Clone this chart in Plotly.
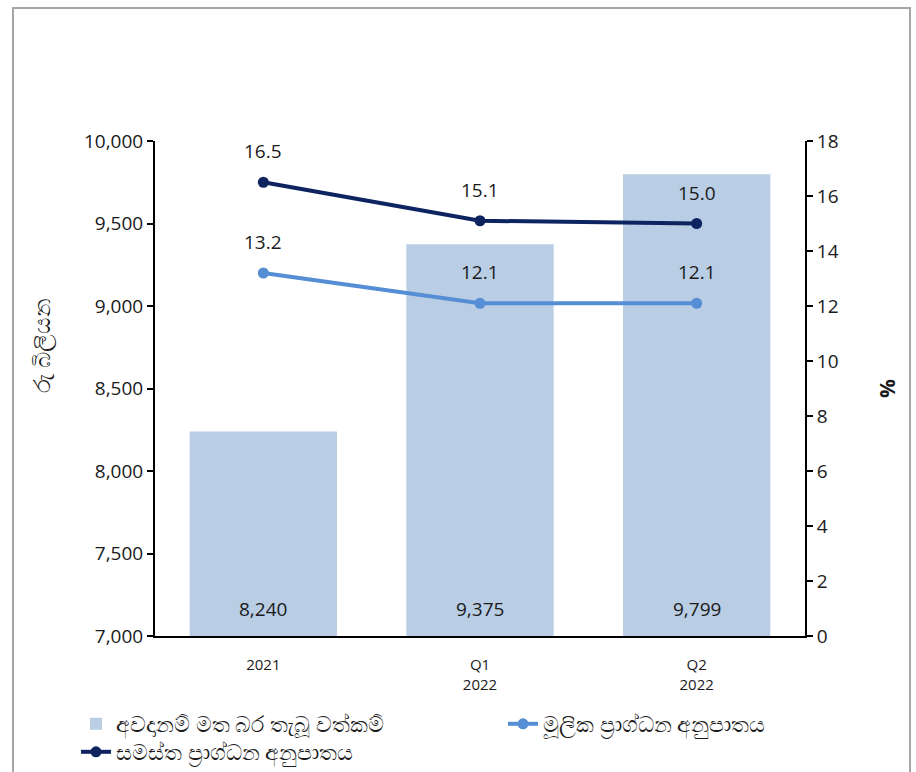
import plotly.graph_objects as go

# Data
categories = ["2021", "Q1<br>2022", "Q2<br>2022"]
rwa_values = [8240, 9375, 9799]          # risk-weighted assets, Rs. billion
core_ratio = [13.2, 12.1, 12.1]          # core capital ratio, %
total_ratio = [16.5, 15.1, 15.0]         # total capital ratio, %

bar_name = "අවදානම් මත බර තැබූ වත්කම්"
core_name = "මූලික ප්‍රාග්ධන අනුපාතය"
total_name = "සමස්ත ප්‍රාග්ධන අනුපාතය"
y_left_title = "රු බිලියන"
y_right_title = "<b>%</b>"

BAR_COLOR = "#b9cde5"
CORE_COLOR = "#558ed5"
TOTAL_COLOR = "#0d2461"
TEXT_COLOR = "#1a1a1a"
FONT = "Open Sans, Noto Sans, sans-serif"

# Plot-area geometry in pixels, used to place paper-referenced items
L, R, T, B = 155, 805, 141, 636
W_PX, H_PX = R - L, B - T


def px_x(p):
    return (p - L) / W_PX


def px_y(p):
    return (B - p) / H_PX


fig = go.Figure()

fig.add_trace(go.Bar(
    x=categories, y=rwa_values, name=bar_name,
    marker=dict(color=BAR_COLOR, line=dict(width=0)),
    width=0.68, yaxis="y", legend="legend",
))

fig.add_trace(go.Scatter(
    x=categories, y=core_ratio, name=core_name, yaxis="y2",
    mode="lines+markers",
    line=dict(color=CORE_COLOR, width=4),
    marker=dict(color=CORE_COLOR, size=11),
    legend="legend2",
))

fig.add_trace(go.Scatter(
    x=categories, y=total_ratio, name=total_name, yaxis="y2",
    mode="lines+markers",
    line=dict(color=TOTAL_COLOR, width=4),
    marker=dict(color=TOTAL_COLOR, size=11),
    legend="legend3",
))

annotations = []
# Bar value labels sit at the foot of each bar
for i, v in enumerate(rwa_values):
    annotations.append(dict(
        x=i, y=0.0, xref="x", yref="y domain", yanchor="bottom",
        text=f"{v:,}", showarrow=False, yshift=12,
        font=dict(size=19, color=TEXT_COLOR, family=FONT),
    ))
# Ratio labels above each point
for series in (core_ratio, total_ratio):
    for i, v in enumerate(series):
        annotations.append(dict(
            x=i, y=v, xref="x", yref="y2", yanchor="bottom",
            text=f"{v:.1f}", showarrow=False, yshift=16,
            font=dict(size=19, color=TEXT_COLOR, family=FONT),
        ))
# Left axis title
annotations.append(dict(
    x=px_x(41), y=px_y(346), xref="paper", yref="paper",
    xanchor="center", yanchor="middle", textangle=-90,
    text=y_left_title, showarrow=False,
    font=dict(size=23, color=TEXT_COLOR, family=FONT),
))

legend_common = dict(
    orientation="h", xanchor="left", yanchor="middle",
    font=dict(size=22, family=FONT, color=TEXT_COLOR),
    bgcolor="rgba(0,0,0,0)", borderwidth=0,
)

fig.update_layout(
    width=916, height=772,
    margin=dict(l=L, r=916 - R, t=T, b=772 - B, autoexpand=False),
    paper_bgcolor="white", plot_bgcolor="white",
    font=dict(family=FONT, color=TEXT_COLOR, size=18),
    showlegend=True,
    xaxis=dict(
        type="category",
        showline=True, linecolor="black", linewidth=2,
        ticks="outside", ticklen=14, tickcolor="rgba(0,0,0,0)",
        tickfont=dict(size=15),
        showgrid=False,
    ),
    yaxis=dict(
        range=[7000, 10000], dtick=500, tickformat=",",
        showline=True, linecolor="black", linewidth=2,
        ticks="outside", ticklen=6, tickcolor="black", tickwidth=2,
        showgrid=False, zeroline=False,
        tickfont=dict(size=19),
    ),
    yaxis2=dict(
        range=[0, 18], dtick=2, overlaying="y", side="right",
        showline=True, linecolor="black", linewidth=2,
        ticks="outside", ticklen=6, tickcolor="black", tickwidth=2,
        showgrid=False, zeroline=False,
        tickfont=dict(size=19),
        title=dict(text=y_right_title, font=dict(size=21), standoff=43),
    ),
    legend=dict(legend_common, x=px_x(76), y=px_y(724)),
    legend2=dict(legend_common, x=px_x(503), y=px_y(724)),
    legend3=dict(legend_common, x=px_x(76), y=px_y(752)),
    annotations=annotations,
    shapes=[dict(
        type="rect", xref="paper", yref="paper",
        x0=px_x(13), x1=px_x(910), y0=px_y(790), y1=px_y(8),
        line=dict(color="#a6a6a6", width=2), fillcolor="rgba(0,0,0,0)",
        layer="below",
    )],
)

fig.write_html("out.html")
